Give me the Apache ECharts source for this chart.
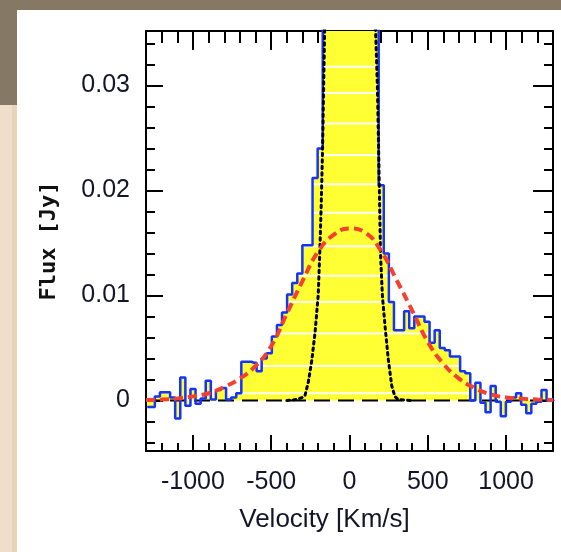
<!DOCTYPE html>
<html>
<head>
<meta charset="utf-8">
<script src="https://cdn.jsdelivr.net/npm/echarts@6/dist/echarts.min.js"></script>
<style>html,body{margin:0;padding:0;background:#fff}#c{width:561px;height:552px}</style>
</head>
<body>
<div id="c"></div>
<script>
// ---- data ----
const velocity = [-1292.25,-1259.75,-1227.25,-1194.75,-1162.25,-1129.75,-1097.25,-1064.75,-1032.25,-999.75,
  -967.25,-934.75,-902.25,-869.75,-837.25,-804.75,-772.25,-739.75,-707.25,-674.75,
  -642.25,-609.75,-577.25,-544.75,-512.25,-479.75,-447.25,-414.75,-382.25,-349.75,
  -317.25,-284.75,-252.25,-219.75,-187.25,-154.75,-122.25,-89.75,-57.25,-24.75,
  7.75,40.25,72.75,105.25,137.75,170.25,202.75,235.25,267.75,300.25,
  332.75,365.25,397.75,430.25,462.75,495.25,527.75,560.25,592.75,625.25,
  657.75,690.25,722.75,755.25,787.75,820.25,852.75,885.25,917.75,950.25,
  982.75,1015.25,1047.75,1080.25,1112.75,1145.25,1177.75,1210.25,1242.75,1275.25,1307.75];
const flux = [-0.0006,-0.0006,0.0004,0.0008,0.0008,0.0003,-0.0017,0.0022,-0.0005,0.0011,
  -0.0003,0.0002,0.0019,0.0001,0.0010,0.0012,0.0001,0.0003,0.0007,0.0037,
  0.0037,0.0036,0.0028,0.0040,0.0045,0.0061,0.0072,0.0084,0.0101,0.0112,
  0.0121,0.0148,0.0148,0.0212,0.0240,0.050,0.090,0.130,0.150,0.160,
  0.160,0.150,0.130,0.100,0.070,0.045,0.0205,0.0140,0.0094,0.0067,
  0.0067,0.0085,0.0069,0.0080,0.0080,0.0075,0.0055,0.0067,0.0050,0.0048,
  0.0042,0.0042,0.0028,0.0026,0.0000,0.0017,-0.0002,-0.0011,0.0014,-0.0001,
  -0.0015,-0.0001,0.0003,0.0007,-0.0004,-0.0012,-0.0003,-0.0001,0.0010,0.0000,0.0001];

// narrow component (black dotted)
const narrowV = [-400,-340,-300,-284,-264,-241,-220,-200,-190,-180,-172,-165,-158,-140,0,
  140,165,178,186,192,198,210,227,248,270,290,310,400];
const narrowF = [0,0.0001,0.0003,0.0005,0.0017,0.0038,0.0065,0.0100,0.0140,0.0190,0.0240,0.0300,0.0360,0.0500,0.16,
  0.0500,0.0360,0.0300,0.0240,0.0190,0.0140,0.0100,0.0071,0.0039,0.0014,0.0004,0.0001,0];

// broad component (red dashed)
const broadV = [-1300,-1200,-1100,-1000,-900,-800,-700,-600,-500,-400,-300,-200,-100,0,
  100,200,300,400,500,600,700,800,900,1000,1100,1200,1300];
const broadF = [0.00005,0.0001,0.0002,0.0004,0.0007,0.0013,0.0021,0.0033,0.0052,0.0083,0.0114,0.0142,0.0158,0.0164,
  0.0160,0.0143,0.0115,0.0086,0.0056,0.0035,0.0021,0.0012,0.0006,0.0003,0.00018,0.0001,0.00005];

// white hatch levels inside the filled profile
const hatchLevels = [0.0318,0.0293,0.0264,0.0234,0.0206,0.0179,0.0147,0.0119,0.0094,0.0064,0.0033,0.0007];

const xMajor = [-1000,-500,0,500,1000];
const xMinor = [-1200,-1100,-900,-800,-700,-600,-400,-300,-200,-100,100,200,300,400,600,700,800,900,1100,1200];
const yMajor = [0,0.01,0.02,0.03];
const yMinor = [-0.004,-0.002,0.002,0.004,0.006,0.008,0.012,0.014,0.016,0.018,0.022,0.024,0.026,0.028,0.032,0.034];

// ---- build ----
const histData = velocity.map((v,i)=>[v,flux[i]]);
const lblFont = 'Liberation Sans, Arial, Helvetica, sans-serif';

function xAx(pos, vals, len, line, labels){
  return {type:'value', position:pos, min:-1300, max:1300,
    axisLine:{show:line, onZero:false, lineStyle:{color:'#000', width:2}},
    axisTick:{show:true, inside:true, length:len, customValues:vals, lineStyle:{color:'#000', width:2}},
    axisLabel: labels ? {show:true, customValues:vals, fontSize:25, color:'#15152a', margin:19,
      fontFamily:lblFont, formatter:v=>String(v)} : {show:false},
    splitLine:{show:false}};
}
function yAx(pos, vals, len, line, labels){
  return {type:'value', position:pos, min:-0.0048, max:0.0352,
    axisLine:{show:line, onZero:false, lineStyle:{color:'#000', width:2}},
    axisTick:{show:true, inside:true, length:len, customValues:vals, lineStyle:{color:'#000', width:2}},
    axisLabel: labels ? {show:true, customValues:vals, fontSize:25, color:'#15152a', margin:16,
      fontFamily:lblFont, formatter:v=>(v===0?'0':v.toFixed(2))} : {show:false},
    splitLine:{show:false}};
}

const xAxes = [xAx('bottom', xMajor, 16, true, true), xAx('bottom', xMinor, 8, false, false),
               xAx('top', xMajor, 19, true, false), xAx('top', xMinor, 12, false, false)];
xAxes[0].name = 'Velocity [Km/s]';
xAxes[0].nameLocation = 'middle';
xAxes[0].nameGap = 56;
xAxes[0].nameTextStyle = {fontSize:26, color:'#15152a', fontFamily:lblFont, padding:[0,50,0,0]};

const yAxes = [yAx('left', yMajor, 17, true, true), yAx('left', yMinor, 9, false, false),
               yAx('right', yMajor, 20, true, false), yAx('right', yMinor, 9, false, false)];
yAxes[0].name = 'Flux [Jy]';
yAxes[0].nameLocation = 'middle';
yAxes[0].nameGap = 86;
yAxes[0].nameTextStyle = {fontSize:22, fontWeight:'bold', color:'#111', fontFamily:'DejaVu Sans Mono, Liberation Mono, monospace'};

// white hatch segments: contiguous span around the peak where the histogram exceeds the level
let peak = 0;
flux.forEach((f,i)=>{ if (f > flux[peak]) peak = i; });
const hatchSeries = hatchLevels.map(L=>{
  let l = peak, r = peak;
  while (l > 0 && flux[l-1] > L) l--;
  while (r < flux.length-1 && flux[r+1] > L) r++;
  const xl = l > 0 ? (velocity[l-1]+velocity[l])/2 : velocity[l];
  const xr = r < flux.length-1 ? (velocity[r]+velocity[r+1])/2 : velocity[r];
  return {type:'line', data:[[xl,L],[xr,L]], symbol:'none', silent:true, z:2,
    lineStyle:{color:'#ffffff', width:2}};
});

const chart = echarts.init(document.getElementById('c'), null, {renderer:'canvas'});
chart.setOption({
  animation:false,
  backgroundColor:'#ffffff',
  grid:{left:146, top:31, width:407, height:420, containLabel:false},
  graphic:[
    {type:'rect', shape:{x:0,y:0,width:561,height:10}, style:{fill:'#857966'}, silent:true},
    {type:'rect', shape:{x:0,y:0,width:17,height:105}, style:{fill:'#857966'}, silent:true},
    {type:'rect', shape:{x:0,y:105,width:17,height:447}, style:{fill:'#efdfca'}, silent:true},
    {type:'rect', shape:{x:12,y:105,width:5,height:447}, style:{fill:'#e6d4bb'}, silent:true}
  ],
  xAxis:xAxes,
  yAxis:yAxes,
  series:[
    {type:'line', data:histData, step:'middle', symbol:'none', silent:true, z:1,
      lineStyle:{width:0, opacity:0}, areaStyle:{color:'#ffff33', opacity:1}},
    ...hatchSeries,
    {type:'line', data:[[-1300,0],[1300,0]], symbol:'none', silent:true, z:3,
      lineStyle:{color:'#000', width:2, type:[16,8]}},
    {type:'line', data:histData, step:'middle', symbol:'none', silent:true, z:4,
      lineStyle:{color:'#1433ff', width:2.5}},
    {type:'line', data:narrowV.map((v,i)=>[v,narrowF[i]]), symbol:'none', silent:true, z:5,
      lineStyle:{color:'#000', width:3, type:[2.5,4], cap:'round'}},
    {type:'line', data:broadV.map((v,i)=>[v,broadF[i]]), smooth:true, symbol:'none', silent:true, z:6,
      lineStyle:{color:'#f4402f', width:4, type:[9,5]}}
  ]
});
</script>
</body>
</html>
